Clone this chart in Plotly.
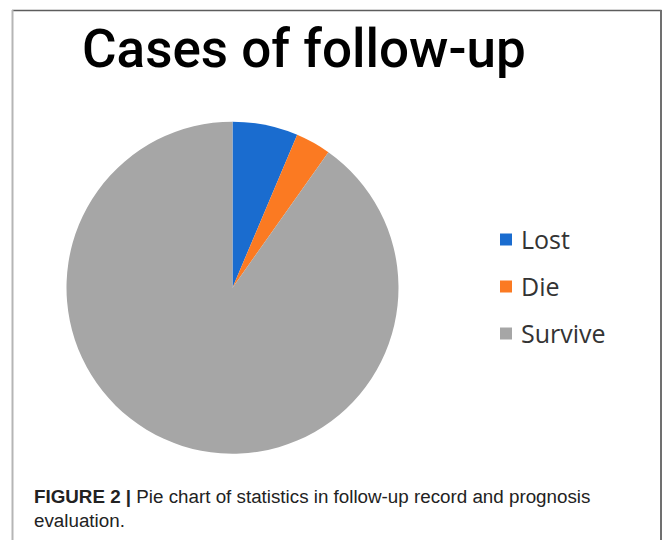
import plotly.graph_objects as go

# ---- data ----
labels = ["Lost", "Die", "Survive"]
values = [13, 7, 184]
colors = ["#1a6ccf", "#fb7a22", "#a6a6a6"]
title_text = "Cases of follow-up"
caption_text = ("<b>FIGURE 2 |</b> Pie chart of statistics in follow-up record and prognosis"
                "<br>evaluation.")

W, H = 663, 540


def px(x):
    return x / W


def py(y):
    return 1 - y / H


# pie geometry (pixels)
cx, cy, r = 232.5, 287.7, 166

fig = go.Figure()
fig.add_trace(go.Pie(
    labels=labels,
    values=values,
    marker=dict(colors=colors, line=dict(width=0)),
    sort=False,
    direction="clockwise",
    rotation=0,
    textinfo="none",
    showlegend=False,
    domain=dict(x=[px(cx - r), px(cx + r)], y=[py(cy + r), py(cy - r)]),
))

shapes = []
annotations = []

# frame lines
shapes.append(dict(type="line", xref="paper", yref="paper",
                   x0=px(12), x1=px(661.5), y0=py(10.5), y1=py(10.5),
                   line=dict(color="#5c5c5c", width=1.5)))
shapes.append(dict(type="line", xref="paper", yref="paper",
                   x0=px(12.5), x1=px(12.5), y0=py(10), y1=py(541),
                   line=dict(color="#b5b5b5", width=2)))
shapes.append(dict(type="line", xref="paper", yref="paper",
                   x0=px(661), x1=px(661), y0=py(10), y1=py(541),
                   line=dict(color="#707070", width=2)))

# legend (manual, built from labels/colors)
leg_x_key, leg_y0, leg_dy, key = 500, 239.5, 47, 12
for i, (lab, col) in enumerate(zip(labels, colors)):
    yc = leg_y0 + i * leg_dy
    shapes.append(dict(type="rect", xref="paper", yref="paper",
                       x0=px(leg_x_key), x1=px(leg_x_key + key),
                       y0=py(yc + key / 2), y1=py(yc - key / 2),
                       fillcolor=col, line=dict(width=0)))
    annotations.append(dict(xref="paper", yref="paper", x=px(519), y=py(yc - 1),
                            xanchor="left", yanchor="middle", showarrow=False,
                            text=lab,
                            font=dict(family="Open Sans", size=25, color="#333333")))

# title
annotations.append(dict(xref="paper", yref="paper", x=px(304), y=py(49),
                        xanchor="center", yanchor="middle", showarrow=False,
                        text=title_text,
                        font=dict(family="Roboto", size=53, weight=500, color="#000000")))

# caption
annotations.append(dict(xref="paper", yref="paper", x=px(32), y=py(509),
                        xanchor="left", yanchor="middle", align="left", showarrow=False,
                        text=caption_text,
                        font=dict(family="Liberation Sans", size=18.8, color="#222222")))

fig.update_layout(
    width=W, height=H,
    margin=dict(l=0, r=0, t=0, b=0),
    paper_bgcolor="white",
    plot_bgcolor="white",
    shapes=shapes,
    annotations=annotations,
)

fig.write_html("out.html")
